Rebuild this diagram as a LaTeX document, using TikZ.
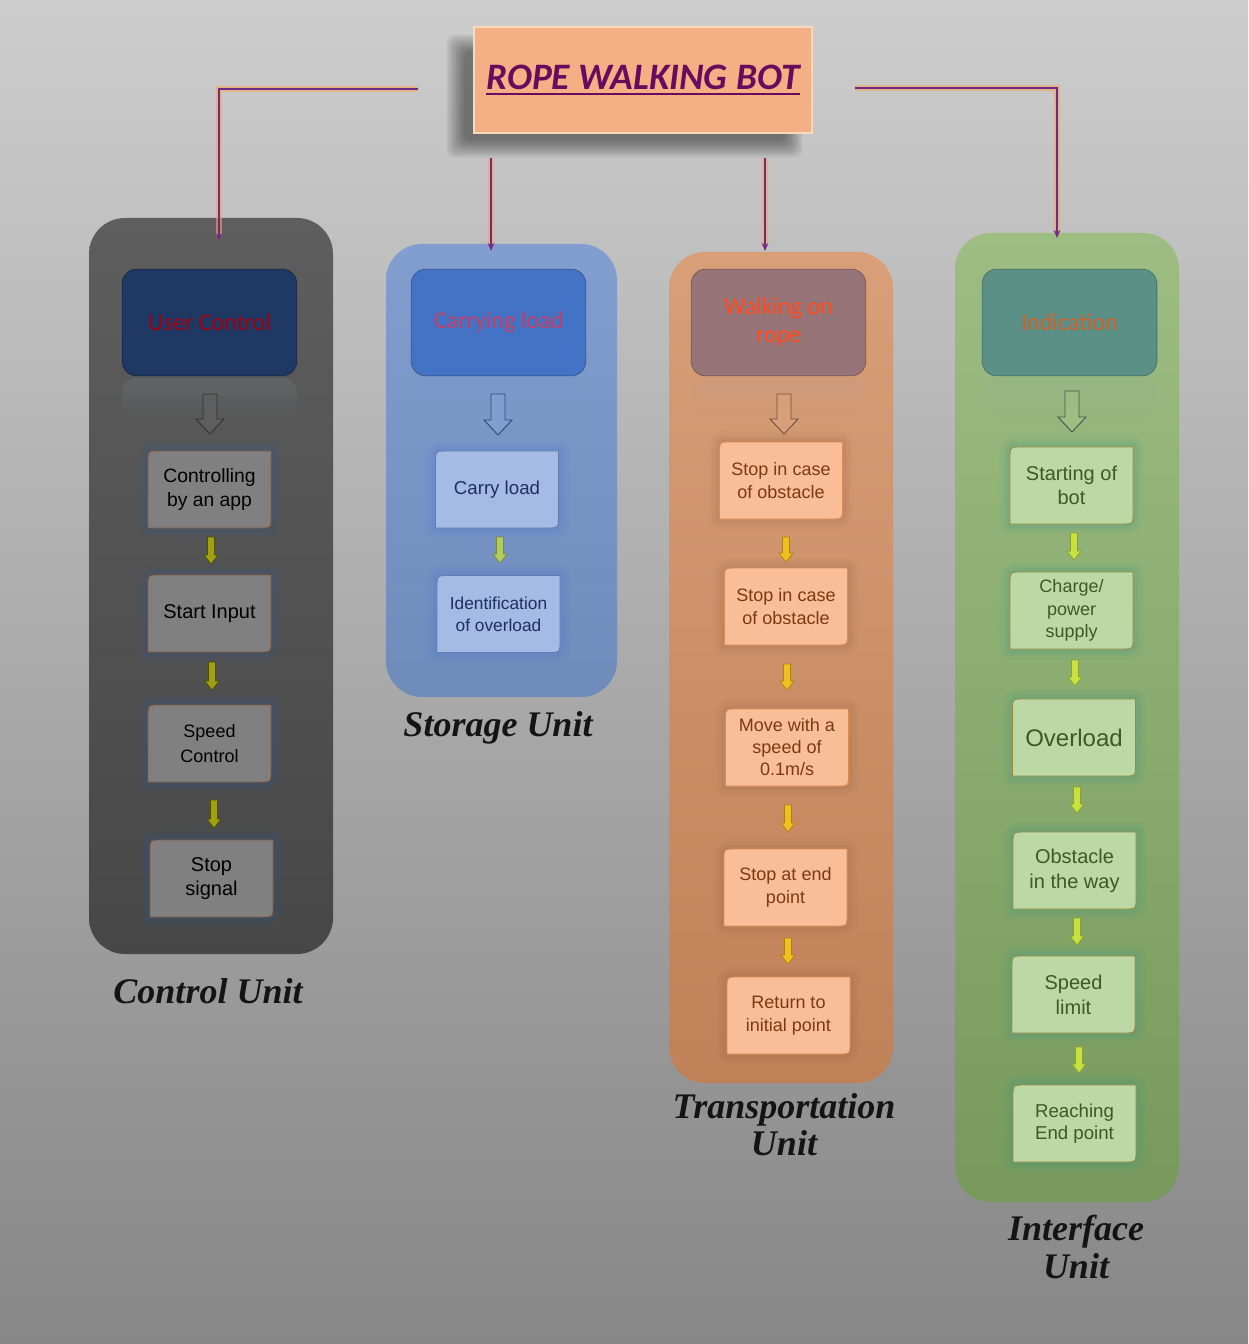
\documentclass[tikz,border=0pt]{standalone}
\usepackage{fontspec}
\setmainfont{Liberation Sans}
\newfontfamily\calfont{Carlito}
\newfontfamily\unitfont{Liberation Serif}
\usetikzlibrary{arrows.meta,fadings}
\definecolor{bgtop}{HTML}{CDCDCD}
\definecolor{bgbot}{HTML}{878787}
\definecolor{titlefill}{HTML}{F4B084}
\definecolor{titleedge}{HTML}{FBD9BC}
\definecolor{titletext}{HTML}{6A0A5E}
\definecolor{connc}{HTML}{6E2A8A}
\definecolor{connglow}{HTML}{F2A85C}
% columns
\definecolor{c1top}{HTML}{5E5E5E}\definecolor{c1bot}{HTML}{474747}
\definecolor{c2top}{HTML}{829ED0}\definecolor{c2bot}{HTML}{6F8BBA}
\definecolor{c3top}{HTML}{D89F78}\definecolor{c3bot}{HTML}{BF8158}
\definecolor{c4top}{HTML}{9DBD82}\definecolor{c4bot}{HTML}{779A5C}
% headers
\definecolor{h1f}{HTML}{1F3864}\definecolor{h1d}{HTML}{202A44}\definecolor{h1t}{HTML}{A00010}
\definecolor{h2f}{HTML}{4472C4}\definecolor{h2d}{HTML}{3A5A98}\definecolor{h2t}{HTML}{C03F68}
\definecolor{h3f}{HTML}{967478}\definecolor{h3d}{HTML}{7A5A58}\definecolor{h3t}{HTML}{FF4A1A}
\definecolor{h4f}{HTML}{5B9087}\definecolor{h4d}{HTML}{4A7468}\definecolor{h4t}{HTML}{D0602A}
% step boxes
\definecolor{b1f}{HTML}{808080}\definecolor{b1d}{HTML}{8A5A3A}\definecolor{b1g}{HTML}{2F5A96}\definecolor{b1t}{HTML}{000000}
\definecolor{b2f}{HTML}{A3BBE5}\definecolor{b2d}{HTML}{6A7AA8}\definecolor{b2g}{HTML}{4A7AD8}\definecolor{b2t}{HTML}{1F3060}
\definecolor{b3f}{HTML}{F7BE97}\definecolor{b3d}{HTML}{E08A50}\definecolor{b3g}{HTML}{9A6A50}\definecolor{b3t}{HTML}{7A3A12}
\definecolor{b4f}{HTML}{BCD8A4}\definecolor{b4d}{HTML}{9A8A40}\definecolor{b4g}{HTML}{3F9A8A}\definecolor{b4t}{HTML}{3A5A28}
% small arrows
\definecolor{y1f}{HTML}{A0A010}\definecolor{y1d}{HTML}{505000}
\definecolor{y2f}{HTML}{B4CC5A}\definecolor{y2d}{HTML}{7A8A40}
\definecolor{y3f}{HTML}{F0C020}\definecolor{y3d}{HTML}{B08010}
\definecolor{y4f}{HTML}{C8E040}\definecolor{y4d}{HTML}{8AA030}

\tikzfading[name=fadedown, top color=transparent!45, bottom color=transparent!100]

\newcommand\thickul[1]{\setbox0\hbox{#1}\rlap{\color{titletext}\rule[-4.5pt]{\wd0}{1.5pt}}\box0}

% step box: name, cx, cy, fill/draw opts, glow colour, text opts, text
\newcommand\stepbox[7]{%
  \foreach \w/\o in {16/0.06,11/0.09,6/0.13}{%
    \draw[#5, line width=\w pt, opacity=\o, line join=round]
      ({#2-61.5},{#3+38.5}) -- ({#2-61.5},{#3-26.5}) .. controls ({#2-61.5},{#3-38.5}) .. ({#2-49.5},{#3-38.5})
      -- ({#2+61.5},{#3-38.5}) -- ({#2+61.5},{#3+26.5}) .. controls ({#2+61.5},{#3+38.5}) .. ({#2+49.5},{#3+38.5}) -- cycle;}
  \filldraw[#4, line width=0.6pt]
      ({#2-61.5},{#3+38.5}) -- ({#2-61.5},{#3-26.5}) .. controls ({#2-61.5},{#3-38.5}) .. ({#2-49.5},{#3-38.5})
      -- ({#2+61.5},{#3-38.5}) -- ({#2+61.5},{#3+26.5}) .. controls ({#2+61.5},{#3+38.5}) .. ({#2+49.5},{#3+38.5}) -- cycle;
  \node[align=center, inner sep=0pt, #6] (#1) at (#2,#3) {#7};
}
% small block arrow: x, ytop, ybot, fill, draw
\newcommand\yarrow[5]{%
  \filldraw[fill=#4, draw=#5, line width=0.5pt, line join=miter]
    ({#1-3.5},#2) -- ({#1+3.5},#2) -- ({#1+3.5},{#3-9}) -- ({#1+7},{#3-9}) -- (#1,#3)
    -- ({#1-7},{#3-9}) -- ({#1-3.5},{#3-9}) -- cycle;}
% hollow arrow: x, ytop, ybot, fill, draw
\newcommand\hollowarrow[5]{%
  \filldraw[fill=#4, draw=#5, line width=0.7pt]
    ({#1-7},#2) -- ({#1+7},#2) -- ({#1+7},{#3-15}) -- ({#1+14},{#3-15}) -- (#1,#3)
    -- ({#1-14},{#3-15}) -- ({#1-7},{#3-15}) -- cycle;}

\begin{document}
\begin{tikzpicture}[x=0.75pt,y=-0.75pt,
  hdr/.style={rounded corners=11pt, minimum width=131pt, minimum height=80pt,
    font=\calfont\fontsize{18}{21}\selectfont, align=center, line width=0.6pt},
  unitlabel/.style={font=\unitfont\bfseries\itshape\fontsize{27}{27}\selectfont, text=black!92, align=center},
  conn/.style={draw=connc, line width=1.4pt, -{Stealth[length=6pt,width=5pt]},
    preaction={draw=connglow, line width=3.8pt, opacity=0.6}}]
\useasboundingbox (0,0) rectangle (1248,1344);
\shade[top color=bgtop, bottom color=bgbot] (0,0) rectangle (1248,1344);

% ---- title with soft shadow
\foreach \i in {0,...,11}{
  \fill[black, opacity=0.045, rounded corners=6pt] ({464-\i*1.6},{52-\i*1.6}) rectangle ({785+\i*1.6},{140+\i*1.6});}
\node[draw=titleedge, line width=1.6pt, fill=titlefill, minimum width=253pt, minimum height=79pt,
  font=\calfont\bfseries\itshape\fontsize{28}{32}\selectfont, text=titletext] (title) at (643,80)
  {\thickul{ROPE WALKING BOT}};

% ---- columns
\shade[top color=c1top, bottom color=c1bot, rounded corners=27pt] (89,218) rectangle (333,954);
\shade[top color=c2top, bottom color=c2bot, rounded corners=27pt] (386,244) rectangle (617,697);
\shade[top color=c3top, bottom color=c3bot, rounded corners=27pt] (669,252) rectangle (893,1083);
\shade[top color=c4top, bottom color=c4bot, rounded corners=27pt] (955,233) rectangle (1179,1202);

% ---- connectors from the title
\coordinate (tL) at (418,89);   \coordinate (eL) at (219,241);
\coordinate (tM1) at (491,158); \coordinate (eM1) at (491,251);
\coordinate (tM2) at (765,158); \coordinate (eM2) at (765,251);
\coordinate (tR) at (855,88);   \coordinate (eR) at (1057,238);
\draw[conn] (tL) -| (eL);
\draw[conn] (tM1) -- (eM1);
\draw[conn] (tM2) -- (eM2);
\draw[conn] (tR) -| (eR);

% ---- headers with reflections
\node[hdr, fill=h1f, draw=h1d, text=h1t] (h1) at (209.5,322.5) {User Control};
\node[hdr, fill=h2f, draw=h2d, text=h2t] (h2) at (498.5,322.5) {Carrying load};
\node[hdr, fill=h3f, draw=h3d, text=h3t] (h3) at (778.5,322.5) {Walking on\\rope};
\node[hdr, fill=h4f, draw=h4d, text=h4t] (h4) at (1069.5,322.5) {Indication};
\fill[h1f!55!white, opacity=0.35, path fading=fadedown, rounded corners=11pt] (122,378) rectangle (297,418);
\fill[h2f!70!white, opacity=0.35, path fading=fadedown, rounded corners=11pt] (411,378) rectangle (586,418);
\fill[h3f!70!white, opacity=0.35, path fading=fadedown, rounded corners=11pt] (691,378) rectangle (866,418);
\fill[h4f!70!white, opacity=0.35, path fading=fadedown, rounded corners=11pt] (982,378) rectangle (1157,418);

% ---- hollow arrows under headers
\hollowarrow{210}{394}{434}{c1top}{black!80}
\hollowarrow{498}{394}{435}{c2top}{h2d!80!black}
\hollowarrow{784}{394}{434}{c3top}{h3d!90!black}
\hollowarrow{1072}{391}{432}{c4top}{h4d!80!black}

% ---- Control Unit boxes
\stepbox{a1}{209.5}{489.5}{fill=b1f,draw=b1d}{b1g}{text=b1t,font=\fontsize{14.5}{18.5}\selectfont}{Controlling\\by an app}
\stepbox{a2}{209.5}{613.5}{fill=b1f,draw=b1d}{b1g}{text=b1t,font=\fontsize{15}{18.5}\selectfont}{Start Input}
\stepbox{a3}{209.5}{743.5}{fill=b1f,draw=b1d}{b1g}{text=b1t,font=\fontsize{13.5}{19}\selectfont}{Speed\\Control}
\stepbox{a4}{211.5}{878.5}{fill=b1f,draw=b1d}{b1g}{text=b1t,font=\fontsize{15}{18}\selectfont}{Stop\\signal}
\yarrow{211}{537}{564}{y1f}{y1d}
\yarrow{212}{662}{690}{y1f}{y1d}
\yarrow{214}{800}{828}{y1f}{y1d}

% ---- Storage Unit boxes
\stepbox{b1}{497}{489.5}{fill=b2f,draw=b2d}{b2g}{text=b2t,font=\fontsize{14}{18}\selectfont}{Carry load}
\stepbox{b2}{498.5}{614}{fill=b2f,draw=b2d}{b2g}{text=b2t,font=\fontsize{13}{16.5}\selectfont}{Identification\\of overload}
\yarrow{500}{537}{563}{y2f}{y2d}

% ---- Transportation Unit boxes
\stepbox{t1}{781}{480.5}{fill=b3f,draw=b3d}{b3g}{text=b3t,font=\fontsize{13.5}{17}\selectfont}{Stop in case\\of obstacle}
\stepbox{t2}{786}{606.5}{fill=b3f,draw=b3d}{b3g}{text=b3t,font=\fontsize{13.5}{17}\selectfont}{Stop in case\\of obstacle}
\stepbox{t3}{787}{747.5}{fill=b3f,draw=b3d}{b3g}{text=b3t,font=\fontsize{13.5}{16.5}\selectfont}{Move with a\\speed of\\0.1m/s}
\stepbox{t4}{785.5}{887.5}{fill=b3f,draw=b3d}{b3g}{text=b3t,font=\fontsize{13.5}{17.5}\selectfont}{Stop at end\\point}
\stepbox{t5}{788.5}{1015.5}{fill=b3f,draw=b3d}{b3g}{text=b3t,font=\fontsize{13.5}{17.5}\selectfont}{Return to\\initial point}
\yarrow{786}{537}{562}{y3f}{y3d}
\yarrow{787}{664}{690}{y3f}{y3d}
\yarrow{788}{805}{832}{y3f}{y3d}
\yarrow{788}{938}{964}{y3f}{y3d}

% ---- Interface Unit boxes
\stepbox{i1}{1071.5}{485.5}{fill=b4f,draw=b4d}{b4g}{text=b4t,font=\fontsize{15}{18.5}\selectfont}{Starting of\\bot}
\stepbox{i2}{1071.5}{610.5}{fill=b4f,draw=b4d}{b4g}{text=b4t,font=\fontsize{13.5}{17}\selectfont}{Charge/\\power\\supply}
\stepbox{i3}{1074}{737.5}{fill=b4f,draw=b4d}{b4g}{text=b4t,font=\fontsize{18}{21}\selectfont}{Overload}
\stepbox{i4}{1074.5}{870.5}{fill=b4f,draw=b4d}{b4g}{text=b4t,font=\fontsize{15}{18.5}\selectfont}{Obstacle\\in the way}
\stepbox{i5}{1073.5}{994.5}{fill=b4f,draw=b4d}{b4g}{text=b4t,font=\fontsize{15}{18.5}\selectfont}{Speed\\limit}
\stepbox{i6}{1074.5}{1123.5}{fill=b4f,draw=b4d}{b4g}{text=b4t,font=\fontsize{14}{17}\selectfont}{Reaching\\End point}
\yarrow{1074}{533}{560}{y4f}{y4d}
\yarrow{1075}{660}{686}{y4f}{y4d}
\yarrow{1077}{787}{813}{y4f}{y4d}
\yarrow{1077}{918}{945}{y4f}{y4d}
\yarrow{1079}{1047}{1073}{y4f}{y4d}

% ---- unit labels
\node[unitlabel] (u1) at (208,991) {Control Unit};
\node[unitlabel] (u2) at (498,728) {Storage Unit};
\node[unitlabel, font=\unitfont\bfseries\itshape\fontsize{27}{27.5}\selectfont] (u3) at (784,1125) {Transportation\\Unit};
\node[unitlabel, font=\unitfont\bfseries\itshape\fontsize{27}{28.5}\selectfont] (u4) at (1076,1247) {Interface\\Unit};
\end{tikzpicture}
\end{document}
